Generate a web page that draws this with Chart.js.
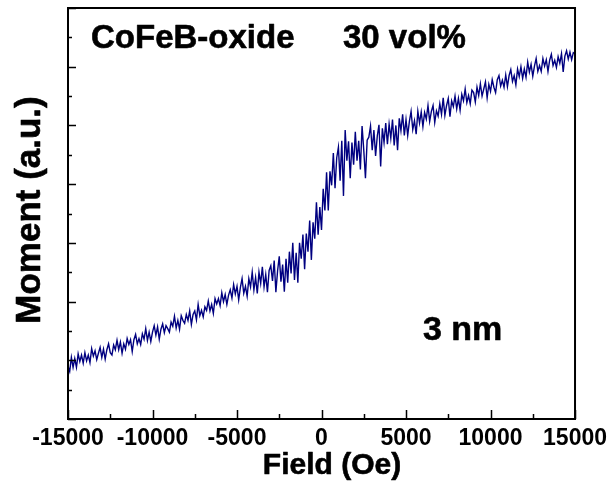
<!DOCTYPE html>
<html>
<head>
<meta charset="utf-8">
<script src="https://cdn.jsdelivr.net/npm/chart.js@4.4.1/dist/chart.umd.min.js"></script>
<style>
  html, body { margin: 0; padding: 0; background: #fff; }
  #wrap { width: 613px; height: 494px; }
</style>
</head>
<body>
<div id="wrap"><canvas id="mh-chart" width="613" height="494"></canvas></div>
<script>
/* ===== M(H) loop, CoFeB-oxide 30 vol%, 3 nm ===== */

// applied field (Oe)
const FIELD = [
  -15000, -14900, -14800, -14700, -14600, -14500, -14400, -14300, -14200, -14100,
  -14000, -13900, -13800, -13700, -13600, -13500, -13400, -13300, -13200, -13100,
  -13000, -12900, -12800, -12700, -12600, -12500, -12400, -12300, -12200, -12100,
  -12000, -11900, -11800, -11700, -11600, -11500, -11400, -11300, -11200, -11100,
  -11000, -10900, -10800, -10700, -10600, -10500, -10400, -10300, -10200, -10100,
  -10000, -9900, -9800, -9700, -9600, -9500, -9400, -9300, -9200, -9100,
  -9000, -8900, -8800, -8700, -8600, -8500, -8400, -8300, -8200, -8100,
  -8000, -7900, -7800, -7700, -7600, -7500, -7400, -7300, -7200, -7100,
  -7000, -6900, -6800, -6700, -6600, -6500, -6400, -6300, -6200, -6100,
  -6000, -5900, -5800, -5700, -5600, -5500, -5400, -5300, -5200, -5100,
  -5000, -4900, -4800, -4700, -4600, -4500, -4400, -4300, -4200, -4100,
  -4000, -3900, -3800, -3700, -3600, -3500, -3400, -3300, -3200, -3100,
  -3000, -2900, -2800, -2700, -2600, -2500, -2400, -2300, -2200, -2100,
  -2000, -1900, -1800, -1700, -1600, -1500, -1400, -1300, -1200, -1100,
  -1000, -900, -800, -700, -600, -500, -400, -300, -200, -100,
  0, 100, 200, 300, 400, 500, 600, 700, 800, 900,
  1000, 1100, 1200, 1300, 1400, 1500, 1600, 1700, 1800, 1900,
  2000, 2100, 2200, 2300, 2400, 2500, 2600, 2700, 2800, 2900,
  3000, 3100, 3200, 3300, 3400, 3500, 3600, 3700, 3800, 3900,
  4000, 4100, 4200, 4300, 4400, 4500, 4600, 4700, 4800, 4900,
  5000, 5100, 5200, 5300, 5400, 5500, 5600, 5700, 5800, 5900,
  6000, 6100, 6200, 6300, 6400, 6500, 6600, 6700, 6800, 6900,
  7000, 7100, 7200, 7300, 7400, 7500, 7600, 7700, 7800, 7900,
  8000, 8100, 8200, 8300, 8400, 8500, 8600, 8700, 8800, 8900,
  9000, 9100, 9200, 9300, 9400, 9500, 9600, 9700, 9800, 9900,
  10000, 10100, 10200, 10300, 10400, 10500, 10600, 10700, 10800, 10900,
  11000, 11100, 11200, 11300, 11400, 11500, 11600, 11700, 11800, 11900,
  12000, 12100, 12200, 12300, 12400, 12500, 12600, 12700, 12800, 12900,
  13000, 13100, 13200, 13300, 13400, 13500, 13600, 13700, 13800, 13900,
  14000, 14100, 14200, 14300, 14400, 14500, 14600, 14700, 14800, 14900,
  15000
];

// moment (a.u.)
const MOMENT = [
  -2.60, -2.69, -2.45, -2.62, -2.47, -2.62, -2.39, -2.52, -2.41, -2.55,
  -2.37, -2.51, -2.41, -2.54, -2.30, -2.43, -2.34, -2.49, -2.38, -2.28,
  -2.45, -2.31, -2.48, -2.32, -2.22, -2.37, -2.41, -2.24, -2.32, -2.16,
  -2.32, -2.19, -2.38, -2.22, -2.31, -2.13, -2.23, -2.15, -2.35, -2.15,
  -2.06, -2.22, -2.13, -2.23, -2.05, -2.14, -1.96, -2.16, -2.02, -2.18,
  -2.02, -1.91, -2.07, -1.93, -2.14, -1.97, -1.88, -2.03, -1.91, -1.96,
  -2.02, -1.85, -1.92, -1.75, -1.95, -1.82, -1.97, -1.74, -1.82, -1.87,
  -1.72, -1.82, -1.66, -1.89, -1.72, -1.66, -1.81, -1.55, -1.74, -1.65,
  -1.76, -1.59, -1.65, -1.49, -1.66, -1.55, -1.70, -1.45, -1.54, -1.45,
  -1.57, -1.35, -1.50, -1.38, -1.55, -1.39, -1.30, -1.44, -1.21, -1.37,
  -1.24, -1.47, -1.26, -1.11, -1.36, -1.24, -1.41, -1.11, -1.25, -1.00,
  -1.30, -1.09, -1.36, -1.00, -1.19, -0.91, -1.25, -1.04, -1.34, -0.97,
  -0.89, -1.15, -0.80, -1.34, -0.98, -0.73, -1.16, -0.87, -1.33, -0.77,
  -1.18, -0.65, -1.02, -0.50, -1.13, -0.67, -1.18, -0.50, -0.77, -0.36,
  -0.95, -0.34, -0.65, -0.12, -0.79, -0.15, -0.43, 0.19, -0.36, 0.11,
  -0.28, 0.42, 0.05, 0.70, 0.05, 0.72, 0.48, 1.03, 0.43, 0.95,
  1.13, 0.56, 1.24, 0.30, 1.42, 0.90, 1.23, 0.60, 1.21, 0.83,
  1.39, 0.90, 1.24, 0.75, 1.49, 1.08, 0.60, 1.25, 1.30, 1.49,
  1.08, 1.42, 0.98, 1.32, 1.51, 0.80, 1.45, 1.21, 1.54, 1.18,
  1.52, 1.28, 1.60, 1.16, 1.50, 1.08, 1.62, 1.41, 1.69, 1.33,
  1.60, 1.33, 1.57, 1.74, 1.43, 1.58, 1.35, 1.74, 1.54, 1.73,
  1.48, 1.72, 1.61, 1.84, 1.57, 1.74, 1.84, 1.55, 1.75, 1.66,
  1.87, 1.69, 1.97, 1.67, 1.84, 1.96, 1.65, 1.92, 1.82, 2.00,
  1.78, 1.96, 1.76, 2.03, 1.92, 2.12, 1.89, 2.01, 1.87, 2.10,
  2.06, 1.90, 2.15, 2.01, 2.21, 2.00, 2.12, 2.24, 1.97, 2.20,
  2.08, 2.28, 2.15, 2.06, 2.28, 2.35, 2.17, 2.27, 2.15, 2.36,
  2.16, 2.35, 2.45, 2.25, 2.35, 2.19, 2.46, 2.33, 2.50, 2.30,
  2.46, 2.32, 2.58, 2.41, 2.54, 2.34, 2.51, 2.64, 2.42, 2.52,
  2.42, 2.64, 2.51, 2.62, 2.42, 2.61, 2.71, 2.52, 2.61, 2.49,
  2.67, 2.56, 2.72, 2.41, 2.68, 2.77, 2.63, 2.75, 2.62, 2.74,
  2.72
];

const X_MIN = -15000, X_MAX = 15000, X_STEP = 2500;   // labelled every 5000
const Y_MIN = -3.5, Y_MAX = 3.5, Y_STEP = 0.5;        // no labels on moment axis

const FONT = '"Liberation Sans", Arial, Helvetica, sans-serif';
const LINE_COLOR = '#000080';

// bold text with a hairline outline, the original looks heavier
function heavyText(ctx, txt, x, y) {
  ctx.fillText(txt, x, y);
  ctx.strokeText(txt, x, y);
}

// frame, inward ticks and the text labels
const framePlugin = {
  id: 'frame',
  afterDraw(chart) {
    const { ctx, chartArea: a, scales } = chart;
    ctx.save();
    ctx.strokeStyle = '#000';

    // inward ticks on bottom and left
    ctx.lineWidth = 1.5;
    ctx.beginPath();
    scales.x.ticks.forEach(t => {
      const px = Math.round(scales.x.getPixelForValue(t.value)) + 0.5;
      const len = (t.value % 5000 === 0) ? 9 : 5;
      ctx.moveTo(px, a.bottom);
      ctx.lineTo(px, a.bottom - len);
    });
    scales.y.ticks.forEach(t => {
      const py = Math.round(scales.y.getPixelForValue(t.value)) + 0.5;
      const major = Math.abs((t.value - Y_MIN) % 1) < 1e-6;
      ctx.moveTo(a.left, py);
      ctx.lineTo(a.left + (major ? 8 : 4), py);
    });
    ctx.stroke();

    // box
    ctx.lineWidth = 2;
    ctx.strokeRect(a.left, a.top, a.right - a.left, a.bottom - a.top);

    // texts
    ctx.fillStyle = '#000';
    ctx.lineWidth = 0.6;
    ctx.lineJoin = 'round';
    ctx.textBaseline = 'alphabetic';
    ctx.textAlign = 'left';
    ctx.font = 'bold 33px ' + FONT;
    heavyText(ctx, 'CoFeB-oxide', 91, 48);
    heavyText(ctx, '30 vol%', 343, 48);
    ctx.font = 'bold 34px ' + FONT;
    heavyText(ctx, '3 nm', 423, 340);

    ctx.textAlign = 'center';
    ctx.font = 'bold 30px ' + FONT;
    heavyText(ctx, 'Field (Oe)', 332, 474);

    ctx.translate(40, 210);
    ctx.rotate(-Math.PI / 2);
    ctx.font = 'bold 35px ' + FONT;
    heavyText(ctx, 'Moment (a.u.)', 0, 0);
    ctx.restore();
  }
};

const points = FIELD.map((f, i) => ({ x: f, y: MOMENT[i] }));

const mhChart = new Chart(document.getElementById('mh-chart').getContext('2d'), {
  type: 'line',
  data: {
    datasets: [{
      label: 'Moment',
      data: points,
      borderColor: LINE_COLOR,
      backgroundColor: LINE_COLOR,
      borderWidth: 1.4,
      pointRadius: 0,
      tension: 0
    }]
  },
  options: {
    responsive: false,
    animation: false,
    layout: { padding: { top: 8, right: 36, left: 0, bottom: 0 } },
    plugins: {
      legend: { display: false },
      tooltip: { enabled: false }
    },
    scales: {
      x: {
        type: 'linear',
        min: X_MIN,
        max: X_MAX,
        grid: { display: false, drawTicks: false },
        border: { display: false },
        afterFit(scale) { scale.height = 75; },
        ticks: {
          stepSize: X_STEP,
          autoSkip: false,
          maxRotation: 0,
          padding: 6,
          color: '#000',
          font: { family: FONT, size: 23, weight: 'bold' },
          callback: v => (v % 5000 === 0 ? String(v) : '')
        }
      },
      y: {
        type: 'linear',
        min: Y_MIN,
        max: Y_MAX,
        grid: { display: false, drawTicks: false },
        border: { display: false },
        afterFit(scale) { scale.width = 68; },
        ticks: { stepSize: Y_STEP, display: false }
      }
    }
  },
  plugins: [framePlugin]
});
</script>
</body>
</html>
